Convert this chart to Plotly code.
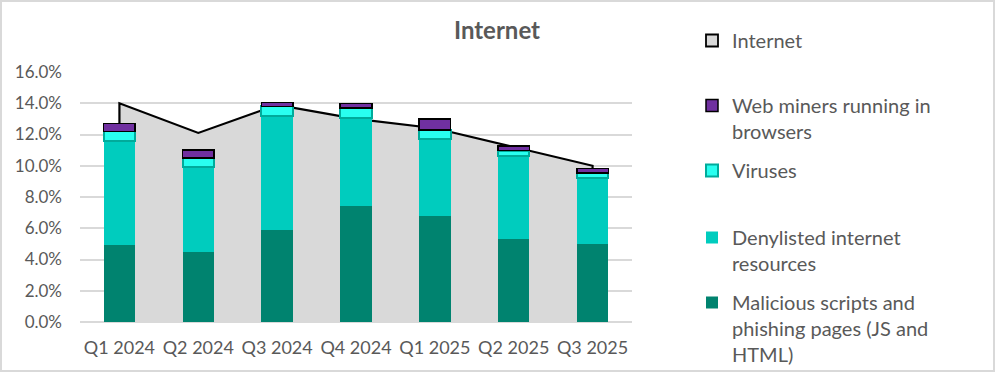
import plotly.graph_objects as go

categories = ["Q1 2024", "Q2 2024", "Q3 2024", "Q4 2024", "Q1 2025", "Q2 2025", "Q3 2025"]
malicious = [4.95, 4.45, 5.9, 7.45, 6.8, 5.3, 5.0]
denylisted = [6.65, 5.5, 7.3, 5.6, 4.9, 5.3, 4.2]
viruses = [0.6, 0.55, 0.6, 0.65, 0.6, 0.37, 0.33]
miners = [0.5, 0.5, 0.25, 0.3, 0.7, 0.3, 0.3]
internet = [14.0, 12.1, 13.9, 13.0, 12.4, 11.2, 10.0]
y_ticks = [0, 2, 4, 6, 8, 10, 12, 14, 16]

TXT = "#595959"
FONT = "Lato"

fig = go.Figure()

# grey area (drawn on base axes, underneath bars)
fig.add_trace(go.Scatter(
    x=categories, y=internet, mode="none", fill="tozeroy",
    fillcolor="#D9D9D9", showlegend=False, hoverinfo="skip",
))
# outline of area with vertical edges
fig.add_trace(go.Scatter(
    x=[categories[0]] + categories + [categories[-1]],
    y=[0] + internet + [0],
    mode="lines", line=dict(color="black", width=2.2),
    showlegend=False, hoverinfo="skip",
))

fig.add_trace(go.Bar(
    x=categories, y=malicious, yaxis="y2", legend="legend5",
    name="Malicious scripts and<br>phishing pages (JS and<br>HTML)",
    marker=dict(color="#00836F", line=dict(width=0)),
))
fig.add_trace(go.Bar(
    x=categories, y=denylisted, yaxis="y2", legend="legend4",
    name="Denylisted internet<br>resources",
    marker=dict(color="#00CCBE", line=dict(width=0)),
))
fig.add_trace(go.Bar(
    x=categories, y=viruses, yaxis="y2", legend="legend3",
    name="Viruses",
    marker=dict(color="#29FFF0", line=dict(color="#00AB9B", width=2)),
))
fig.add_trace(go.Bar(
    x=categories, y=miners, yaxis="y2", legend="legend2",
    name="Web miners running in<br>browsers",
    marker=dict(color="#7030A0", line=dict(color="black", width=1.5)),
))
# legend entry for the Internet area
fig.add_trace(go.Bar(
    x=[categories[0]], y=[None], yaxis="y2", legend="legend",
    name="Internet",
    marker=dict(color="#D9D9D9", line=dict(color="black", width=1.8)),
))

L, R, T, B = 80, 363, 72, 50
W, H = 995, 372
pw, ph = W - L - R, H - T - B


def leg(top_px):
    return dict(x=692 / W, xref="container", xanchor="left",
                y=1 - top_px / H, yref="container", yanchor="top", valign="top",
                font=dict(family=FONT, size=20, color=TXT),
                bgcolor="rgba(0,0,0,0)", itemclick=False, itemdoubleclick=False)


fig.update_layout(
    width=W, height=H,
    margin=dict(l=L, r=R, t=T, b=B, autoexpand=False),
    paper_bgcolor="white", plot_bgcolor="white",
    barmode="stack", bargap=0.6,
    font=dict(family=FONT, color=TXT, size=18),
    title=dict(text="<b>Internet</b>", x=497 / W, xref="container", xanchor="center",
               y=1 - 31 / H, yref="container", yanchor="middle",
               font=dict(family=FONT, size=24, color=TXT)),
    xaxis=dict(type="category", categoryorder="array", categoryarray=categories,
               showgrid=False, showline=False, zeroline=False, ticks="",
               tickfont=dict(size=18, color=TXT), ticklabelstandoff=13),
    yaxis=dict(range=[0, 16], tickvals=y_ticks, ticktext=[f"{v:.1f}%" for v in y_ticks],
               showgrid=True, gridcolor="#D9D9D9", gridwidth=2,
               zeroline=True, zerolinecolor="#D9D9D9", zerolinewidth=2,
               showline=False, ticks="", tickfont=dict(size=17, color=TXT),
               ticklabelstandoff=17),
    yaxis2=dict(range=[0, 16], overlaying="y", visible=False),
    legend=leg(21),
    legend2=leg(86),
    legend3=leg(151),
    legend4=leg(218),
    legend5=leg(283),
    shapes=[dict(type="rect", xref="paper", yref="paper",
                 x0=(1 - L) / pw, x1=(W - 1 - L) / pw,
                 y0=-(H - 1 - (T + ph)) / ph, y1=1 + (T - 1) / ph,
                 line=dict(color="#D9D9D9", width=2), layer="below")],
)

fig.write_html("out.html", config={"displayModeBar": False},
               post_script="document.body.style.margin='0';")
